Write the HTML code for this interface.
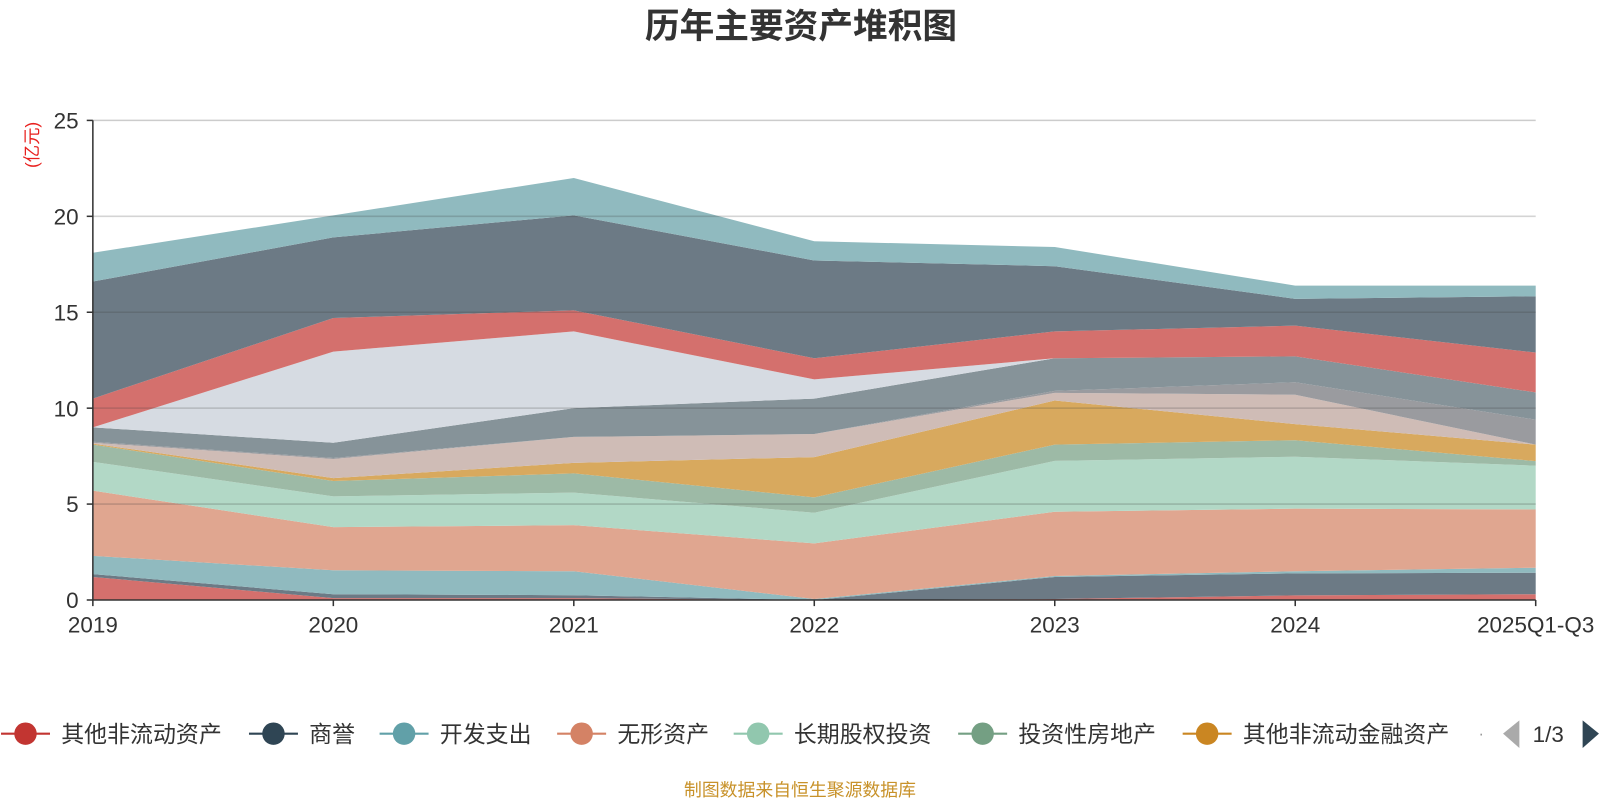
<!DOCTYPE html>
<html><head><meta charset="utf-8"><style>
body{margin:0;background:#fff;width:1600px;height:800px;overflow:hidden;font-family:"Liberation Sans","Noto Sans CJK SC",sans-serif;}
svg{display:block}
</style></head><body>
<svg id="chart" width="1600" height="800" xmlns="http://www.w3.org/2000/svg" font-family="Liberation Sans, Noto Sans CJK SC, sans-serif">
<g transform="scale(1.0204)">
<text x="785" y="37" text-anchor="middle" font-size="34" font-weight="bold" fill="#333">历年主要资产堆积图</text>
<text transform="translate(37,142) rotate(-90)" text-anchor="middle" font-size="17" fill="#e8201e">(亿元)</text>
<g id="areas"></g>
<g id="grid"></g>
<g id="axes"></g>
<g id="legend"></g>
<text x="784" y="780" text-anchor="middle" font-size="17.5" fill="#c8922a">制图数据来自恒生聚源数据库</text>
</g>
</svg>
<script>
const categories = ["2019","2020","2021","2022","2023","2024","2025Q1-Q3"];
const yTicks = [0,5,10,15,20,25];
const s1 = [1.2,0.1,0.1,0,0.05,0.24,0.3];
const s2 = [0.15,0.2,0.15,0,1.15,1.15,1.12];
const s3 = [0.95,1.25,1.25,0.05,0.05,0.11,0.26];
const s4 = [3.4,2.25,2.4,2.9,3.35,3.26,3.04];
const s5 = [1.5,1.6,1.7,1.6,2.65,2.71,2.28];
const s6 = [0.9,0.8,1.0,0.8,0.85,0.86,0.24];
const s7 = [0.05,0.15,0.55,2.1,2.3,0.84,0.86];
const s8 = [0.05,1.0,1.35,1.2,0.4,1.53,0];
const s9 = [0.05,0.05,0,0,0.1,0.65,1.3];
const s10 = [0.75,0.8,1.5,1.85,1.7,1.35,1.42];
const s11 = [0,4.75,4.0,1.0,0,0,0];
const s12 = [1.5,1.75,1.1,1.1,1.4,1.6,2.08];
const s13 = [6.1,4.2,4.95,5.1,3.4,1.4,2.93];
const s14 = [1.5,1.15,1.95,1.0,1.0,0.69,0.56];
const series = [s1,s2,s3,s4,s5,s6,s7,s8,s9,s10,s11,s12,s13,s14];
const legendNames = ["其他非流动资产","商誉","开发支出","无形资产","长期股权投资","投资性房地产","其他非流动金融资产"];

const fills = ["#d4706d","#6c7a85","#90babf","#e0a690","#b2d8c6","#9dbaa6","#d8a95e","#cfbcb6","#9a9b9f","#869399","#d6dbe2","#d4706d","#6c7a85","#90babf"];
const legendColors = ["#c23531","#2f4554","#61a0a8","#d48265","#91c7ae","#749f83","#ca8622"];
const NS="http://www.w3.org/2000/svg";
const X0=91,X1=1505,Y0=588,Y1=118,YMAX=25;
const xs=i=>X0+(X1-X0)*i/(categories.length-1);
const ys=v=>Y0-(Y0-Y1)*v/YMAX;
function mk(tag,attrs,parent){const e=document.createElementNS(NS,tag);for(const k in attrs)e.setAttribute(k,attrs[k]);parent.appendChild(e);return e;}
const areas=document.getElementById('areas');
let base=categories.map(()=>0);
series.forEach((s,k)=>{
  const top=base.map((b,i)=>b+s[i]);
  let d="M"+top.map((v,i)=>xs(i)+","+ys(v)).join(" L");
  for(let i=categories.length-1;i>=0;i--) d+=" L"+xs(i)+","+ys(base[i]);
  const p=mk('path',{d:d+"Z",fill:fills[k]},areas);
  
  
  base=top;
});
const grid=document.getElementById('grid');
yTicks.forEach(t=>{
  if(t===0)return;
  const l=mk('line',{x1:X0,x2:X1,y1:ys(t),y2:ys(t),stroke:t===25?"#ccc":"rgba(60,60,60,0.22)","stroke-width":1.5},grid);
  
  
});
const axes=document.getElementById('axes');
mk('line',{x1:X0,x2:X0,y1:Y1,y2:Y0,stroke:"#333","stroke-width":1.5},axes);
mk('line',{x1:X0,x2:X1,y1:Y0,y2:Y0,stroke:"#333","stroke-width":1.5},axes);
yTicks.forEach(t=>{
  mk('line',{x1:X0-6,x2:X0,y1:ys(t),y2:ys(t),stroke:"#333","stroke-width":1.5},axes);
  const tx=mk('text',{x:X0-14,y:ys(t)+8,"text-anchor":"end","font-size":22,fill:"#333"},axes);
  tx.textContent=t;
  
  
});
categories.forEach((c,i)=>{
  mk('line',{x1:xs(i),x2:xs(i),y1:Y0,y2:Y0+6,stroke:"#333","stroke-width":1.5},axes);
  const tx=mk('text',{x:xs(i),y:Y0+32,"text-anchor":"middle","font-size":22,fill:"#333"},axes);
  tx.textContent=c;
  
  
});
const legend=document.getElementById('legend');
const iconX=[25,268,396,570,743,963,1183];
legendNames.forEach((n,i)=>{
  const g=mk('g',{},legend);
  
  
  mk('line',{x1:iconX[i]-24,x2:iconX[i]+24,y1:719,y2:719,stroke:legendColors[i],"stroke-width":2},g);
  mk('circle',{cx:iconX[i],cy:719,r:11,fill:legendColors[i]},g);
  const t=mk('text',{x:iconX[i]+35,y:727,"font-size":22.5,fill:"#333"},g);
  t.textContent=n;
});
const dot=mk('text',{x:1449,y:724,"font-size":16,fill:"#999"},legend);dot.textContent="·";
const prev=mk('path',{d:"M1489,706 L1473,719 L1489,733 Z",fill:"#aaa"},legend);


const pg=mk('text',{x:1502,y:727,"font-size":22,fill:"#333"},legend);pg.textContent="1/3";
const next=mk('path',{d:"M1551,706 L1567,719 L1551,733 Z",fill:"#2f4554"},legend);


</script>
</body></html>
